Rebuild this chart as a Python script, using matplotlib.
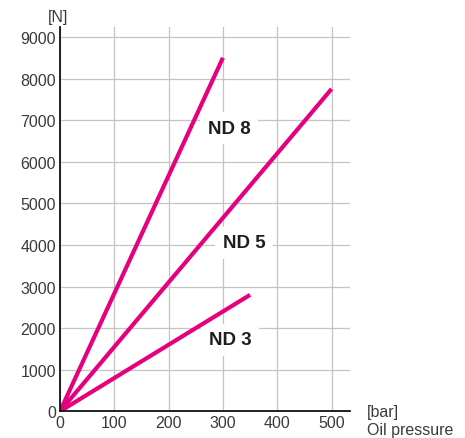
import matplotlib
matplotlib.use("Agg")
import matplotlib.pyplot as plt

# Kennlinien: Öldruck [bar] -> Kraft [N]
druck_nd8 = [0, 300]
kraft_nd8 = [0, 8500]
druck_nd5 = [0, 500]
kraft_nd5 = [0, 7750]
druck_nd3 = [0, 350]
kraft_nd3 = [0, 2800]

etiketten = ["ND 8", "ND 5", "ND 3"]
etikett_x = [311, 339, 313]
etikett_y = [6810, 4050, 1715]

x_ticks = [0, 100, 200, 300, 400, 500]
y_ticks = [0, 1000, 2000, 3000, 4000, 5000, 6000, 7000, 8000, 9000]

MAGENTA = "#E6007E"
GRAU_GRID = "#C4C4C4"
TEXT = "#3a3a3a"

plt.rcParams["font.family"] = ["Liberation Sans", "DejaVu Sans"]

fig = plt.figure(figsize=(4.65, 4.39), dpi=100)
ax = fig.add_axes([60 / 465, 1 - 412.3 / 439, 290 / 465, 384.3 / 439])

for x, y in [(druck_nd8, kraft_nd8), (druck_nd5, kraft_nd5), (druck_nd3, kraft_nd3)]:
    ax.plot(x, y, color=MAGENTA, lw=3, solid_capstyle="butt", zorder=3)

# weiße Box unterbricht nur das Gitter, nicht die Linien
for txt, x, y in zip(etiketten, etikett_x, etikett_y):
    ax.text(x, y, txt, ha="center", va="center", fontsize=13.5, fontweight="bold",
            color="#1e1e1e", zorder=2,
            bbox=dict(boxstyle="square,pad=0.4", fc="white", ec="none"))

ax.set_xlim(0, 534)
ax.set_ylim(0, 9240)
ax.set_xticks(x_ticks)
ax.set_yticks(y_ticks)
ax.grid(True, color=GRAU_GRID, lw=0.9, zorder=0)
ax.set_axisbelow(True)
ax.tick_params(length=0, labelsize=11.5, labelcolor=TEXT, pad=3)

for s in ["top", "right"]:
    ax.spines[s].set_visible(False)
for s in ["left", "bottom"]:
    ax.spines[s].set_color("#111111")
    ax.spines[s].set_linewidth(1.3)
    ax.spines[s].set_zorder(4)

fig.text(58.5 / 465, 1 - 17.5 / 439, "[N]", ha="center", va="center",
         fontsize=11.5, color=TEXT)
fig.text(367 / 465, 1 - 413 / 439, "[bar]", ha="left", va="center",
         fontsize=11.5, color=TEXT)
fig.text(367 / 465, 1 - 430.5 / 439, "Oil pressure", ha="left", va="center",
         fontsize=11.5, color=TEXT)

fig.savefig("out.png", dpi=100)
